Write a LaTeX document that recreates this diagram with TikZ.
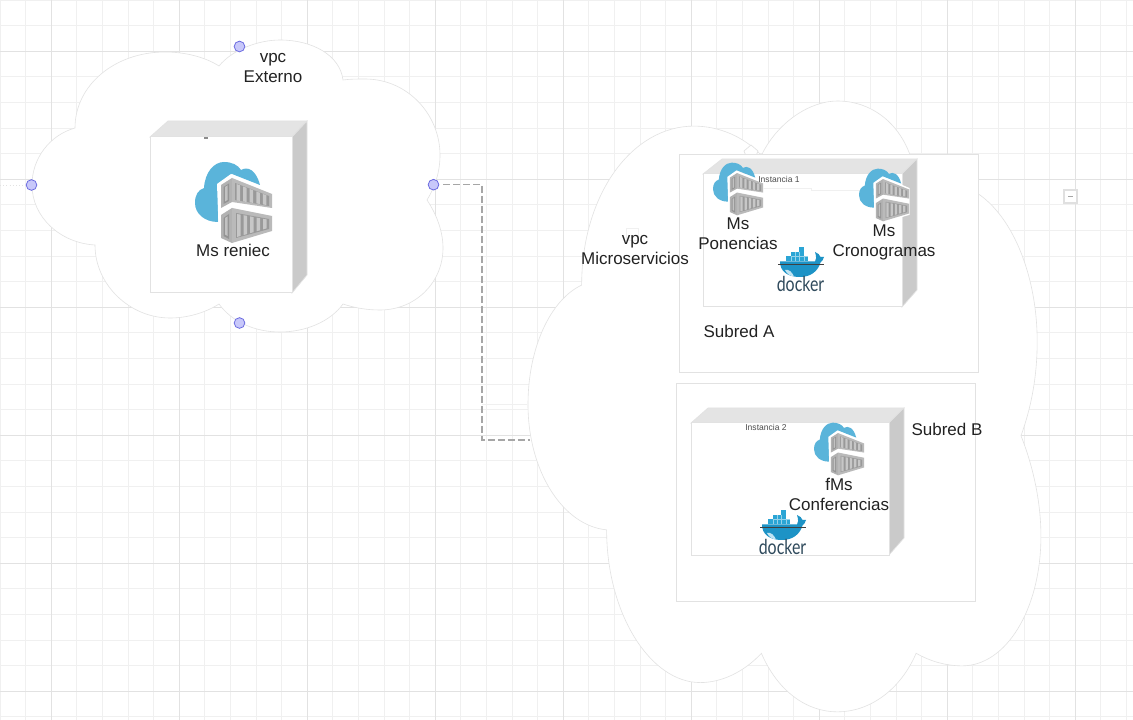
\documentclass[tikz,border=0pt]{standalone}
\usepackage{fontspec}
\usepackage{graphicx}
\setmainfont{Liberation Sans}
\newfontfamily\dockerfont{Lato}
\definecolor{minorgrid}{HTML}{F0F0F0}
\definecolor{majorgrid}{HTML}{E2E2E2}
\definecolor{edgegrey}{HTML}{E2E2E2}
\definecolor{cloudblue}{HTML}{5AB4DA}
\definecolor{whaleblue}{HTML}{1D93C6}
\definecolor{boxblue}{HTML}{2BA5D5}
\definecolor{dockertext}{HTML}{2F4A5C}
\definecolor{toptone}{HTML}{E4E4E4}
\definecolor{sidetone}{HTML}{CACACA}
\definecolor{portfill}{HTML}{C8C8FA}
\definecolor{portline}{HTML}{6A6AE0}
\definecolor{inktext}{HTML}{222222}
\newcommand{\bigcloud}{(75,128) .. controls (75,85) and (115,52) .. (165,52)
 .. controls (185,52) and (205,57) .. (219,66)
 .. controls (232,50) and (258,40) .. (280,40)
 .. controls (312,40) and (340,55) .. (343,80)
 .. controls (350,79) and (358,79) .. (365,79)
 .. controls (408,79) and (440,115) .. (440,155)
 .. controls (440,172) and (435,187) .. (427,200)
 .. controls (437,215) and (443,232) .. (443,248)
 .. controls (443,283) and (415,310) .. (380,310)
 .. controls (367,310) and (355,308) .. (343,304)
 .. controls (330,322) and (305,332) .. (280,332)
 .. controls (255,332) and (232,322) .. (219,304)
 .. controls (205,313) and (187,318) .. (170,318)
 .. controls (130,318) and (95,285) .. (95,245)
 .. controls (60,243) and (32,217) .. (32,185)
 .. controls (32,158) and (50,135) .. (75,128) -- cycle}
\tikzset{
 x=0.75pt,y=-0.75pt,
 gridminor/.style={draw=minorgrid,line width=0.6pt},
 gridmajor/.style={draw=majorgrid,line width=0.6pt},
 cloudshape/.style={draw=edgegrey,fill=white,line width=0.45pt},
 subnet/.style={draw=edgegrey,fill=white,line width=0.75pt},
 frontface/.style={draw=edgegrey,fill=white,line width=0.75pt},
 topface/.style={draw=edgegrey,fill=toptone,line width=0.5pt},
 sideface/.style={draw=edgegrey,fill=sidetone,line width=0.5pt},
 port/.style={circle,draw=portline,fill=portfill,line width=0.6pt,minimum size=8pt,inner sep=0pt},
 label/.style={text=inktext,align=center,inner sep=0pt,font=\fontsize{12.75}{15}\selectfont},
 tinylabel/.style={text=black!70,inner sep=0pt,font=\fontsize{6.4}{8}\selectfont},
 link/.style={draw=black!35,line width=0.8pt,dash pattern=on 5pt off 2.5pt},
 faint/.style={draw=edgegrey,line width=0.4pt},
 mscont/.pic={
  \fill[cloudblue] (23,61) .. controls (10,61) and (0,53) .. (0,42)
    .. controls (0,34) and (3,29) .. (9,27)
    .. controls (10,11) and (19,1) .. (29,1)
    .. controls (37,1) and (43,4) .. (46,9)
    .. controls (53,5) and (61,9) .. (65,24) -- (37,13) -- (23,25) -- cycle;
  \fill[white] (22,23) -- (36,13) -- (78,31) -- (78,72) -- (37,84) -- (24,78) -- cycle;
  % upper container
  \fill[black!30] (26,24) -- (37,17) -- (37,41) -- (26,47) -- cycle;
  \fill[black!27] (37,17) -- (77,33) -- (77,47) -- (37,41) -- cycle;
  \fill[black!40] (40,22) -- (74,35) -- (74,45) -- (40,39) -- cycle;
  \foreach \q in {0,1,2,3,4}{
    \fill[black!22] ({41.5+6.6*\q},{23+2.5*\q}) -- ({45+6.6*\q},{24.3+2.5*\q}) -- ({45+6.6*\q},{40+1*\q}) -- ({41.5+6.6*\q},{39.4+1*\q}) -- cycle;}
  \fill[black!42] (28.5,26) -- (34,22.5) -- (34,40) -- (28.5,43) -- cycle;
  \fill[black!24] (30,26) -- (32.5,24.5) -- (32.5,39) -- (30,40.5) -- cycle;
  % lower container
  \fill[black!30] (26,54) -- (37,47) -- (37,82) -- (26,77) -- cycle;
  \fill[black!27] (37,47) -- (77,55) -- (77,70) -- (37,82) -- cycle;
  \fill[black!40] (41,52) -- (74,58) -- (74,68) -- (41,77) -- cycle;
  \foreach \q in {0,1,2,3,4}{
    \fill[black!22] ({42+6.5*\q},{53+1.2*\q}) -- ({45.5+6.5*\q},{53.6+1.2*\q}) -- ({45.5+6.5*\q},{75-1.9*\q}) -- ({42+6.5*\q},{76-1.9*\q}) -- cycle;}
  \fill[black!42] (28.5,57) -- (34,53) -- (34,78) -- (28.5,75) -- cycle;
  \fill[black!24] (30,57) -- (32.5,55.5) -- (32.5,75) -- (30,73.5) -- cycle;
 },
 dockerlogo/.pic={
  \fill[boxblue] (22.3,0) rectangle (27,4.7);
  \fill[boxblue] (13.7,4.7) rectangle (27,9.2);
  \fill[boxblue] (9,9.2) rectangle (31.3,14.5);
  \draw[white!50!boxblue,line width=0.2pt] (13.7,9.2) -- (31.3,9.2) (18,4.7) -- (18,14) (22.5,4.7) -- (22.5,14) (27,9.2) -- (27,14) (13.7,9.2) -- (13.7,14);
  \fill[whaleblue] (3,14.5) -- (38,14.5) .. controls (39.5,13) and (39.5,10) .. (38,5)
    .. controls (41,6) and (43,8) .. (43.5,10) .. controls (45,9.5) and (46,9.5) .. (47,10)
    .. controls (46,13) and (45,14.5) .. (43.5,15.5)
    .. controls (41,24) and (34,30) .. (23,30)
    .. controls (10,30) and (3,24) .. (3,14.5) -- cycle;
  \fill[white!70!boxblue] (8,23) .. controls (12,22) and (15,25) .. (17,29.5) .. controls (13,29) and (10,27) .. (8,23) -- cycle;
  \draw[black!75,line width=0.35pt] (1,17) -- (47,17);
  \node[inner sep=0pt,text=dockertext,font=\dockerfont\fontsize{15.5}{18}\selectfont] (-word) at (23.5,36.5) {\scalebox{0.77}[1]{docker}};
 }
}
\begin{document}
\begin{tikzpicture}
\useasboundingbox (0,0) rectangle (1133,720);
\fill[white] (0,0) rectangle (1133,720);
% grid
\foreach \k in {0,...,44}{\draw[gridminor] ({25.6*\k},0) -- ({25.6*\k},720);}
\foreach \k in {0,...,28}{\draw[gridminor] (0,{25.6*\k}) -- (1133,{25.6*\k});}
\foreach \k in {0,...,8}{\draw[gridmajor] ({51.2+128*\k},0) -- ({51.2+128*\k},720);}
\foreach \k in {0,...,5}{\draw[gridmajor] (0,{51.2+128*\k}) -- (1133,{51.2+128*\k});}

% small stray marks on the canvas
\draw[draw=white!88!black,fill=white,line width=0.8pt] (1064,190) rectangle (1077,203);
\fill[black!35] (1068,195.8) rectangle (1073,197.2);
\draw[draw=edgegrey,line width=0.4pt,dotted] (0,185) -- (31,185);

% clouds
\path[cloudshape] \bigcloud;
\begin{scope}[shift={(528,101)},xscale=1.248,yscale=2.092,shift={(-32,-40)}]
\path[cloudshape] \bigcloud;
\end{scope}
\draw[draw=edgegrey,fill=white,line width=0.5pt] (744,151) -- (751,145) -- (758,151) -- (756,156) -- (746,156) -- cycle;
\draw[draw=minorgrid,line width=0.5pt] (626,228) rectangle (638,240);

% connector
\node[port] (pleft) at (31.5,185) {};
\node[port] (ptop) at (239.5,46.5) {};
\node[port] (pbottom) at (239.5,323) {};
\node[port] (pright) at (433.5,184.7) {};
\coordinate (bendA) at (482,184.7);
\coordinate (bendB) at (482,440);
\coordinate (cloudport) at (530,440);
\coordinate (faintend) at (527,404);
\coordinate (faintstart) at (482,404);
\draw[faint,draw=minorgrid] (faintstart) -- (faintend);
\draw[link,shorten <=3pt] (pright.east) -- (bendA) -- (bendB) -- (cloudport);

% subnets
\draw[subnet] (679.5,155) rectangle (978.5,373);
\draw[subnet] (676.5,384) rectangle (975.5,601);

% reniec node
\draw[topface] (150,137) -- (168,121) -- (307,121) -- (292,137) -- cycle;
\draw[sideface] (292,137) -- (307,121) -- (307,275) -- (292,293) -- cycle;
\draw[frontface] (150,137) rectangle (292,293);
\fill[black!45] (203.5,137.5) rectangle (208,139);
% instance 1
\draw[topface] (703,174) -- (722,159) -- (917,159) -- (902,174) -- cycle;
\draw[sideface] (902,174) -- (917,159) -- (917,290) -- (902,307) -- cycle;
\draw[frontface] (703,174) rectangle (902,307);
\draw[faint,draw=minorgrid] (763,188) -- (811,188) -- (811,190.5) -- (860,190.5);
% instance 2
\draw[topface] (691,423) -- (708,408) -- (904,408) -- (889,423) -- cycle;
\draw[sideface] (889,423) -- (904,408) -- (904,538) -- (889,555) -- cycle;
\draw[frontface] (691,423) rectangle (889,555);

% icons
\pic (iconreniec) at (195,161) {mscont};
\pic[scale=0.65] (iconponencias) at (713,162) {mscont};
\pic[scale=0.65] (iconcrono) at (859,168) {mscont};
\pic[scale=0.65] (iconconf) at (814,422) {mscont};
\pic (dockerA) at (777,247) {dockerlogo};
\pic (dockerB) at (759,510) {dockerlogo};

% labels
\node[label] (lvpcext) at (273,68) {vpc\\Externo};
\node[label] (lreniec) at (233,250) {Ms reniec};
\node[label] (lvpcms) at (635,250) {vpc\\Microservicios};
\node[label] (lpon) at (738,234) {Ms\\Ponencias};
\node[label] (lcrono) at (884,242) {Ms\\Cronogramas};
\node[label] (lsuba) at (739,331) {Subred A};
\node[label] (lsubb) at (947,429) {Subred B};
\node[label] (lconf) at (839,494) {fMs\\Conferencias};
\node[tinylabel] (linst1) at (779,179) {Instancia 1};
\node[tinylabel] (linst2) at (766,427) {Instancia 2};
\end{tikzpicture}
\end{document}
